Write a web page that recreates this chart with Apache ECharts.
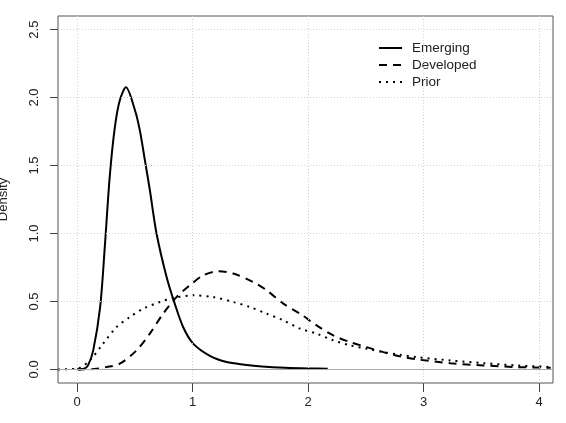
<!DOCTYPE html>
<html>
<head>
<meta charset="utf-8">
<script src="https://cdn.jsdelivr.net/npm/echarts@6/dist/echarts.min.js"></script>
<style>
  html, body { margin: 0; padding: 0; background: #fff; }
  #chart { width: 566px; height: 423px; }
</style>
</head>
<body>
<div id="chart"></div>
<script>
  // tick positions
  var xTicks = [0, 1, 2, 3, 4];
  var yTicks = [0, 0.5, 1, 1.5, 2, 2.5];

  // Emerging (solid)
  var emX = [0, 0.06, 0.095, 0.14, 0.2, 0.24, 0.283, 0.327, 0.37, 0.423, 0.5, 0.543, 0.587, 0.63, 0.688, 0.775, 0.847, 0.919, 1.005, 1.15, 1.295, 1.45, 1.6, 1.8, 2.0, 2.17];
  var emY = [0, 0.005, 0.03, 0.14, 0.46, 0.9, 1.42, 1.78, 1.98, 2.075, 1.91, 1.76, 1.54, 1.32, 1.0, 0.68, 0.48, 0.31, 0.19, 0.1, 0.054, 0.035, 0.022, 0.012, 0.007, 0.005];

  // Developed (dashed)
  var devX = [0, 0.15, 0.254, 0.37, 0.515, 0.63, 0.745, 0.861, 0.977, 1.092, 1.222, 1.352, 1.525, 1.641, 1.785, 1.93, 2.074, 2.218, 2.363, 2.507, 2.652, 2.796, 2.94, 3.23, 3.518, 3.81, 4.1];
  var devY = [0, 0.003, 0.017, 0.042, 0.14, 0.263, 0.41, 0.532, 0.619, 0.692, 0.722, 0.705, 0.643, 0.582, 0.484, 0.41, 0.324, 0.25, 0.201, 0.164, 0.127, 0.096, 0.074, 0.046, 0.029, 0.017, 0.012];

  // Prior (dotted)
  var prX = [-0.165, 0, 0.11, 0.225, 0.341, 0.457, 0.572, 0.717, 0.832, 1.005, 1.179, 1.352, 1.497, 1.641, 1.785, 1.93, 2.074, 2.218, 2.363, 2.507, 2.652, 2.796, 2.94, 3.23, 3.518, 3.81, 4.12];
  var prY = [0, 0.005, 0.066, 0.189, 0.311, 0.385, 0.447, 0.496, 0.525, 0.545, 0.532, 0.496, 0.459, 0.41, 0.361, 0.3, 0.263, 0.214, 0.177, 0.152, 0.127, 0.108, 0.091, 0.066, 0.046, 0.029, 0.017];

  function pairs(xs, ys) {
    var out = [];
    for (var i = 0; i < xs.length; i++) {
      out.push([xs[i], ys[i]]);
    }
    return out;
  }

  var fontFam = 'Liberation Sans, Arial, sans-serif';

  // grid lines like R's grid()
  var gridLines = [];
  xTicks.forEach(function (v) { gridLines.push({ xAxis: v }); });
  yTicks.forEach(function (v) { if (v > 0) gridLines.push({ yAxis: v }); });

  var myChart = echarts.init(document.getElementById('chart'), null, { renderer: 'canvas' });

  myChart.setOption({
    animation: false,
    backgroundColor: '#ffffff',
    color: ['#000', '#000', '#000'],
    grid: {
      left: 58,
      right: 13,
      top: 16,
      bottom: 40,
      outerBoundsMode: 'none',
      containLabel: false,
      show: true,
      borderColor: '#555',
      borderWidth: 1
    },
    legend: {
      orient: 'vertical',
      left: 378,
      top: 41,
      padding: 0,
      itemWidth: 23,
      itemHeight: 14,
      itemGap: 3,
      itemStyle: { color: 'rgba(0,0,0,0)', borderWidth: 0 },
      textStyle: { fontFamily: fontFam, fontSize: 13.5, color: '#222', padding: [0, 0, 0, 5] },
      data: ['Emerging', 'Developed', 'Prior']
    },
    xAxis: {
      type: 'value',
      min: -0.165,
      max: 4.12,
      axisLine: { show: false, onZero: false },
      splitLine: { show: false },
      axisTick: {
        show: true,
        inside: false,
        length: 9,
        customValues: xTicks,
        lineStyle: { color: '#444' }
      },
      axisLabel: {
        customValues: xTicks,
        margin: 13,
        fontFamily: fontFam,
        fontSize: 13,
        color: '#222'
      }
    },
    yAxis: {
      type: 'value',
      min: -0.1,
      max: 2.6,
      name: 'Density',
      nameLocation: 'middle',
      nameRotate: 90,
      nameGap: 48,
      nameTextStyle: { fontFamily: fontFam, fontSize: 13, color: '#222' },
      axisLine: { show: false, onZero: false },
      splitLine: { show: false },
      axisTick: {
        show: true,
        inside: false,
        length: 8,
        customValues: yTicks,
        lineStyle: { color: '#444' }
      },
      axisLabel: {
        customValues: yTicks,
        rotate: 90,
        margin: 17,
        fontFamily: fontFam,
        fontSize: 13,
        color: '#222',
        formatter: function (v) { return v.toFixed(1); }
      }
    },
    series: [{
      name: 'Prior',
      type: 'line',
      symbol: 'none',
      smooth: 0.3,
      z: 3,
      data: pairs(prX, prY),
      itemStyle: { color: '#000' },
      lineStyle: { color: '#000', width: 2, type: [2, 5] },
      markLine: {
        silent: true,
        symbol: 'none',
        label: { show: false },
        lineStyle: { color: '#d3d3d3', width: 1, type: [1, 2] },
        data: gridLines.concat([{ yAxis: 0, lineStyle: { color: '#aaa', type: 'solid', width: 1 } }])
      }
    }, {
      name: 'Developed',
      type: 'line',
      symbol: 'none',
      smooth: 0.3,
      z: 3,
      data: pairs(devX, devY),
      itemStyle: { color: '#000' },
      lineStyle: { color: '#000', width: 2, type: [8, 6] }
    }, {
      name: 'Emerging',
      type: 'line',
      symbol: 'none',
      smooth: 0.3,
      z: 4,
      data: pairs(emX, emY),
      itemStyle: { color: '#000' },
      lineStyle: { color: '#000', width: 2 }
    }]
  });
</script>
</body>
</html>
